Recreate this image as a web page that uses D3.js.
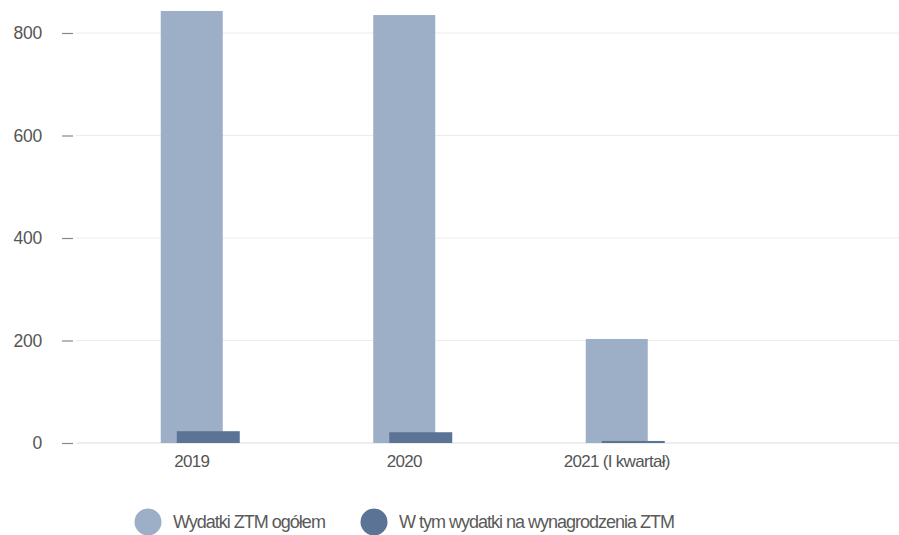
<!DOCTYPE html>
<html>
<head>
<meta charset="utf-8">
<script src="https://cdn.jsdelivr.net/npm/d3@7"></script>
<style>
  html, body { margin: 0; padding: 0; background: #fff; }
  svg { display: block; font-family: "Liberation Sans", Arial, sans-serif; }
</style>
</head>
<body>
<svg id="chart" width="899" height="535"></svg>
<script>
// Expenditure data (mln zł)
const categories = ["2019", "2020", "2021 (I kwartał)"];
const totalSpending = [843, 835, 203];
const salarySpending = [23, 21, 4];
const yTicks = [0, 200, 400, 600, 800];
const seriesNames = ["Wydatki ZTM ogółem", "W tym wydatki na wynagrodzenia ZTM"];
const seriesColors = ["#9dafc6", "#5b7496"];

const svg = d3.select("#chart");
const W = 899;

const y = d3.scaleLinear().domain([0, 800]).range([443, 33]);
const x = d3.scaleBand().domain(categories).range([93.5, 731]).paddingInner(0).paddingOuter(0);

const barW = 62;
const overlap = 16;
const groupW = barW + overlap;

// gridlines
svg.append("g")
  .selectAll("line")
  .data(yTicks)
  .join("line")
  .attr("x1", 76).attr("x2", W)
  .attr("y1", d => y(d)).attr("y2", d => y(d))
  .attr("stroke", d => d === 0 ? "#dcdcdc" : "#ebebeb")
  .attr("stroke-width", 1);

// y axis with short dash ticks
const yAxis = d3.axisLeft(y).tickValues(yTicks).tickSize(11).tickPadding(20);
const gy = svg.append("g").attr("transform", "translate(73,0)").call(yAxis);
gy.select(".domain").remove();
gy.selectAll(".tick line").attr("stroke", "#888").attr("stroke-width", 1.2);
gy.selectAll(".tick text")
  .attr("fill", "#555")
  .style("font-size", "17.5px")
  .style("letter-spacing", "-0.2px");

// bars
const groups = svg.append("g")
  .selectAll("g")
  .data(categories)
  .join("g")
  .attr("transform", d => `translate(${x(d) + (x.bandwidth() - groupW) / 2},0)`);

groups.append("rect")
  .attr("x", 0)
  .attr("width", barW)
  .attr("y", (d, i) => y(totalSpending[i]))
  .attr("height", (d, i) => y(0) - y(totalSpending[i]))
  .attr("fill", seriesColors[0]);

groups.append("rect")
  .attr("x", overlap)
  .attr("width", barW + 1)
  .attr("y", (d, i) => y(salarySpending[i]))
  .attr("height", (d, i) => y(0) - y(salarySpending[i]))
  .attr("fill", seriesColors[1]);

// category labels
const xAxis = d3.axisBottom(x).tickSize(0).tickPadding(12);
const gx = svg.append("g").attr("transform", `translate(${-(groupW / 2) + barW / 2},443)`).call(xAxis);
gx.select(".domain").remove();
gx.selectAll(".tick text")
  .attr("fill", "#555")
  .style("font-size", "17px")
  .style("letter-spacing", "-0.7px");

// legend
const legendX = [148, 374];
const legend = svg.append("g")
  .selectAll("g")
  .data(seriesNames)
  .join("g")
  .attr("transform", (d, i) => `translate(${legendX[i]},522)`);
legend.append("circle").attr("r", 13.5).attr("fill", (d, i) => seriesColors[i]);
legend.append("text")
  .attr("x", 25)
  .attr("dy", "0.35em")
  .attr("fill", "#5a5a5a")
  .style("font-size", "18px")
  .style("letter-spacing", "-1px")
  .text(d => d);
</script>
</body>
</html>
